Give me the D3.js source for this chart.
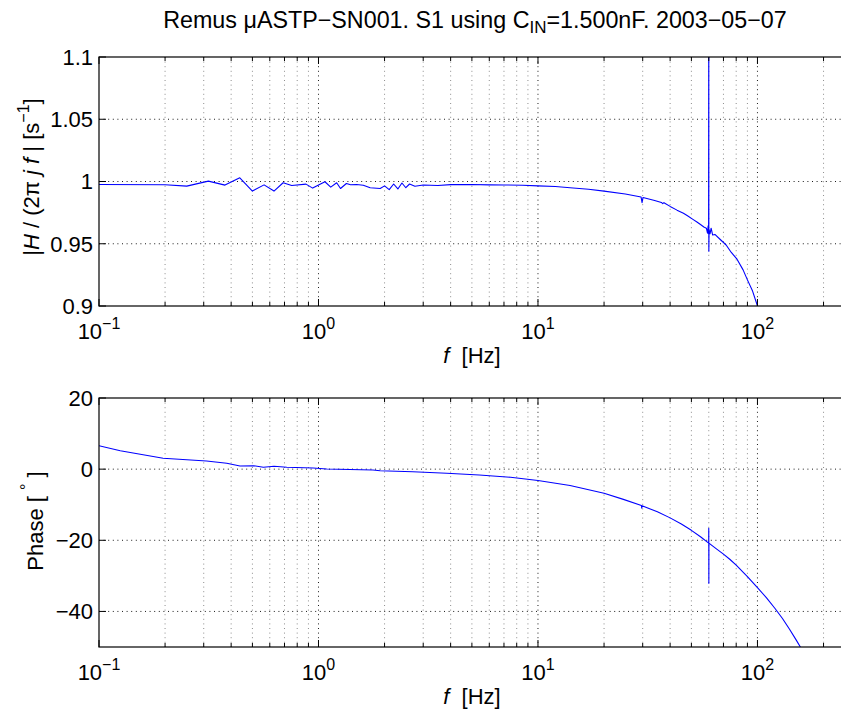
<!DOCTYPE html>
<html><head><meta charset="utf-8">
<script src="https://cdn.jsdelivr.net/npm/d3@7"></script>
<style>
html,body{margin:0;padding:0;background:#fff;}
text{font-family:"Liberation Sans",Arial,Helvetica,sans-serif;fill:#000;}
</style></head>
<body><svg id="c" width="841" height="713"></svg>
<script>
// ---- data ----
const magFreq = [0.1,0.2,0.251,0.315,0.375,0.438,0.5,0.565,0.627,0.69,0.755,0.877,0.941,1.07,1.137,1.21,1.26,1.34,1.40,1.49,1.6,1.72,1.91,2.0,2.1,2.2,2.3,2.4,2.5,2.6,2.75,3.0,3.5,4.0,5.0,6.0,7.0,8.5,10,12,14,17,20,25,29.5,29.8,30.1,34,36.5,37,37.5,40,43,46,48,50.8,53,55,57,58.5,59.2,59.6,59.9,60.0,60.05,60.2,60.8,61.5,62.5,64,67.5,72,76,80.7,86,90,95,100,105,110];
const magValue = [0.9976,0.9974,0.9963,1.0003,0.9971,1.003,0.9923,0.9973,0.9923,0.999,0.9968,0.9979,0.9947,0.9998,0.9955,0.999,0.9944,0.9984,0.9974,0.9976,0.997,0.995,0.9944,0.9965,0.9935,0.998,0.994,0.9988,0.995,0.998,0.9962,0.9972,0.9968,0.9975,0.9976,0.9973,0.9972,0.997,0.9965,0.996,0.995,0.9938,0.9923,0.990,0.9875,0.983,0.9872,0.9848,0.9832,0.9822,0.9830,0.980,0.977,0.9745,0.9725,0.9696,0.9675,0.9655,0.9635,0.9625,0.9585,0.9645,0.958,1.15,0.944,0.9615,0.958,0.9625,0.957,0.9575,0.9536,0.949,0.943,0.9376,0.929,0.921,0.912,0.9,0.889,0.877];

const phaseFreq = [0.1,0.125,0.196,0.309,0.382,0.439,0.505,0.561,0.627,0.717,0.946,1.09,1.77,1.91,2.69,3.84,5.4,7.5,10,14,20,24.5,29.6,29.7,29.8,35,40,45,50,55,59.95,60.0,60.05,60.1,65,70,75,80,90,100,110,120,130,140,150,160,170];
const phaseValue = [6.6,5.18,3.05,2.29,1.64,0.88,0.97,0.52,0.80,0.52,0.32,0.04,-0.24,-0.44,-0.72,-1.17,-1.65,-2.3,-3.2,-4.6,-6.8,-8.5,-10.2,-11.0,-10.3,-12.0,-13.7,-15.4,-17.2,-19.0,-20.8,-16.6,-32.1,-20.8,-22.4,-23.9,-25.4,-27.0,-30.2,-33.3,-36.2,-39.1,-42.0,-45.0,-48.0,-50.9,-53.8];

const xMajorTicks = [0.1,1,10,100];
const xTickExp = ["\u22121","0","1","2"];
const magTicks = [0.9,0.95,1,1.05,1.1];
const magTickLabels = ["0.9","0.95","1","1.05","1.1"];
const phaseTicks = [-40,-20,0,20];
const phaseTickLabels = ["\u221240","\u221220","0","20"];

// ---- layout ----
const svg = d3.select("#c");
const L = 99, R = 850;
const xMax = 264;
const x = d3.scaleLog().domain([0.1, xMax]).range([L, R]);
const FS = 22;

const minorTicks = [];
[0.1,1,10,100].forEach(d => { for (let k=2;k<=9;k++){ const v=d*k; if (v<xMax) minorTicks.push(v);} });

const defs = svg.append("defs");

function panel(id, y, yTicks, yLabels, fData, vData) {
  const [yb, yt] = y.range();
  defs.append("clipPath").attr("id", id).append("rect")
    .attr("x", L).attr("y", yt).attr("width", R-L).attr("height", yb-yt);
  const g = svg.append("g");
  // grid
  minorTicks.forEach(v => {
    g.append("line").attr("x1", x(v)).attr("x2", x(v)).attr("y1", yt).attr("y2", yb)
      .attr("stroke", "#808080").attr("stroke-width", 0.9).attr("stroke-dasharray", "1,3.6");
  });
  xMajorTicks.slice(1).forEach(v => {
    g.append("line").attr("x1", x(v)).attr("x2", x(v)).attr("y1", yt).attr("y2", yb)
      .attr("stroke", "#000").attr("stroke-width", 0.9).attr("stroke-dasharray", "1,3.6");
  });
  yTicks.forEach(v => {
    if (y(v) > yt + 1 && y(v) < yb - 1)
      g.append("line").attr("x1", L).attr("x2", R).attr("y1", y(v)).attr("y2", y(v))
        .attr("stroke", "#000").attr("stroke-width", 0.9).attr("stroke-dasharray", "1,3.6");
  });
  // data line
  const pts = fData.map((f,i)=>({f, v:vData[i]}));
  g.append("path").datum(pts).attr("clip-path", `url(#${id})`)
    .attr("fill","none").attr("stroke","#0000ff").attr("stroke-width",1.1)
    .attr("stroke-linejoin","round")
    .attr("d", d3.line().x(d=>x(d.f)).y(d=>y(d.v)));
  // ticks (inward)
  const tk = svg.append("g").attr("stroke","#000").attr("stroke-width",1);
  xMajorTicks.forEach(v => {
    tk.append("line").attr("x1",x(v)).attr("x2",x(v)).attr("y1",yb).attr("y2",yb-7);
    tk.append("line").attr("x1",x(v)).attr("x2",x(v)).attr("y1",yt).attr("y2",yt+7);
  });
  minorTicks.forEach(v => {
    tk.append("line").attr("x1",x(v)).attr("x2",x(v)).attr("y1",yb).attr("y2",yb-4);
    tk.append("line").attr("x1",x(v)).attr("x2",x(v)).attr("y1",yt).attr("y2",yt+4);
  });
  yTicks.forEach(v => {
    tk.append("line").attr("x1",L).attr("x2",L+7).attr("y1",y(v)).attr("y2",y(v));
    tk.append("line").attr("x1",R).attr("x2",R-7).attr("y1",y(v)).attr("y2",y(v));
  });
  // frame
  svg.append("rect").attr("x",L).attr("y",yt).attr("width",R-L).attr("height",yb-yt)
    .attr("fill","none").attr("stroke","#000").attr("stroke-width",1.2);
  // y tick labels
  yTicks.forEach((v,i) => {
    svg.append("text").attr("x", 93).attr("y", y(v)).attr("dy","0.36em")
      .attr("text-anchor","end").attr("font-size",FS).text(yLabels[i]);
  });
  // x tick labels
  xMajorTicks.forEach((v,i) => {
    const t = svg.append("text").attr("x", x(v)).attr("y", yb + 33)
      .attr("text-anchor","middle").attr("font-size",FS);
    t.append("tspan").text("10");
    t.append("tspan").attr("dy",-10).attr("font-size",16).text(xTickExp[i]);
  });
  // x label
  const xt = svg.append("text").attr("x", 472).attr("y", yb + 57)
    .attr("text-anchor","middle").attr("font-size",FS);
  xt.append("tspan").attr("font-style","italic").text("f");
  xt.append("tspan").text("\u00a0 [Hz]");
}

const yMag = d3.scaleLinear().domain([0.9,1.1]).range([306,57]);
const yPh = d3.scaleLinear().domain([-50,20]).range([647,398]);

panel("cpTop", yMag, magTicks, magTickLabels, magFreq, magValue);
panel("cpBot", yPh, phaseTicks, phaseTickLabels, phaseFreq, phaseValue);

// y labels
const yl1 = svg.append("text").attr("transform","translate(39,177) rotate(-90)")
  .attr("text-anchor","middle").attr("font-size",FS);
yl1.append("tspan").text("|");
yl1.append("tspan").attr("font-style","italic").text("H");
yl1.append("tspan").text(" / (2\u03c0 ");
yl1.append("tspan").attr("font-style","italic").text("j");
yl1.append("tspan").text(" ");
yl1.append("tspan").attr("font-style","italic").text("f");
yl1.append("tspan").text(" | [s");
yl1.append("tspan").attr("dy",-10).attr("font-size",16).text("\u22121");
yl1.append("tspan").attr("dy",10).text("]");

const yl2 = svg.append("text").attr("transform","translate(43,521) rotate(-90)")
  .attr("text-anchor","middle").attr("font-size",FS);
yl2.append("tspan").text("Phase [ ");
yl2.append("tspan").attr("dy",-11).attr("font-size",16).text("\u00b0");
yl2.append("tspan").attr("dy",11).text(" ]");

// title
const tt = svg.append("text").attr("x", 475).attr("y", 28)
  .attr("text-anchor","middle").attr("font-size",23.3);
tt.append("tspan").text("Remus \u03bcASTP\u2212SN001. S1 using C");
tt.append("tspan").attr("dy",5).attr("font-size",17).text("IN");
tt.append("tspan").attr("dy",-5).text("=1.500nF. 2003\u221205\u221207");
</script></body></html>
